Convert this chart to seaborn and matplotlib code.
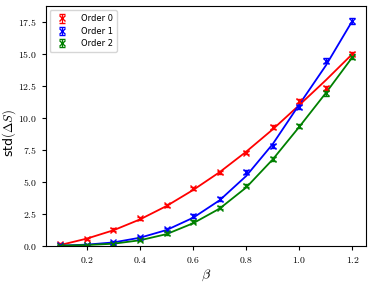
import numpy as np
import pandas as pd
import matplotlib
matplotlib.use('Agg')
import matplotlib.pyplot as plt
from matplotlib.ticker import FuncFormatter
import seaborn as sns

# measured points (beta, std(dS)) per order
beta = [0.1, 0.2, 0.3, 0.4, 0.5, 0.6, 0.7, 0.8, 0.9, 1.0, 1.1, 1.2]
std_order0 = [0.10, 0.52, 1.23, 2.14, 3.16, 4.49, 5.74, 7.28, 9.30, 11.30, 12.30, 15.00]
std_order1 = [0.02, 0.06, 0.28, 0.65, 1.28, 2.32, 3.65, 5.74, 7.82, 10.85, 14.45, 17.56]
std_order2 = [0.00, 0.04, 0.14, 0.48, 0.97, 1.88, 2.95, 4.67, 6.78, 9.37, 11.92, 14.79]
err_order0 = [0.10, 0.10, 0.12, 0.12, 0.12, 0.12, 0.12, 0.14, 0.14, 0.16, 0.16, 0.18]
err_order1 = [0.05, 0.06, 0.08, 0.10, 0.10, 0.12, 0.12, 0.14, 0.16, 0.18, 0.20, 0.22]
err_order2 = [0.03, 0.04, 0.06, 0.08, 0.10, 0.10, 0.12, 0.12, 0.14, 0.16, 0.18, 0.20]

# fitted curves read at the same beta values
fit_order0 = [0.05, 0.55, 1.20, 2.05, 3.10, 4.35, 5.75, 7.35, 9.10, 11.00, 12.95, 15.00]
fit_order1 = [0.00, 0.08, 0.25, 0.62, 1.22, 2.18, 3.55, 5.45, 7.95, 11.05, 14.10, 17.60]
fit_order2 = [0.00, 0.05, 0.15, 0.42, 0.90, 1.75, 2.90, 4.55, 6.75, 9.30, 11.95, 14.75]

labels = ['Order 0', 'Order 1', 'Order 2']
colors = ['red', 'blue', 'green']

plt.rcParams['mathtext.fontset'] = 'cm'

fig = plt.figure(figsize=(3.74, 2.83), dpi=100)
ax = fig.add_axes([0.122, 0.132, 0.856, 0.847])

fits = pd.DataFrame({'beta': beta * 3,
                     'fit': fit_order0 + fit_order1 + fit_order2,
                     'order': [l for l in labels for _ in beta]})
sns.lineplot(data=fits, x='beta', y='fit', hue='order', palette=colors,
             linewidth=1.3, legend=False, ax=ax)

for ys, es, lab, c in zip([std_order0, std_order1, std_order2],
                          [err_order0, err_order1, err_order2], labels, colors):
    ax.errorbar(beta, ys, yerr=es, fmt='x', color=c, markersize=4.5,
                capsize=2.5, elinewidth=0.8, markeredgewidth=1.0, label=lab)

ax.set_xlim(0.045, 1.25)
ax.set_ylim(0, 18.75)
ax.set_xticks([0.2, 0.4, 0.6, 0.8, 1.0, 1.2])
ax.set_yticks(np.arange(0, 17.6, 2.5))
fmt = FuncFormatter(lambda v, p: f'${v:.1f}$')
ax.xaxis.set_major_formatter(fmt)
ax.yaxis.set_major_formatter(fmt)
ax.tick_params(labelsize=7, length=3, width=0.8)
ax.set_xlabel(r'$\beta$', fontsize=10, labelpad=2)
ax.set_ylabel(r'std$(\Delta S)$', fontsize=9, labelpad=2)
ax.yaxis.set_label_coords(-0.085, 0.47)
ax.legend(loc='upper left', fontsize=6, handletextpad=1.2, borderpad=0.5,
          labelspacing=0.4)

fig.savefig('out.png', dpi=100)
